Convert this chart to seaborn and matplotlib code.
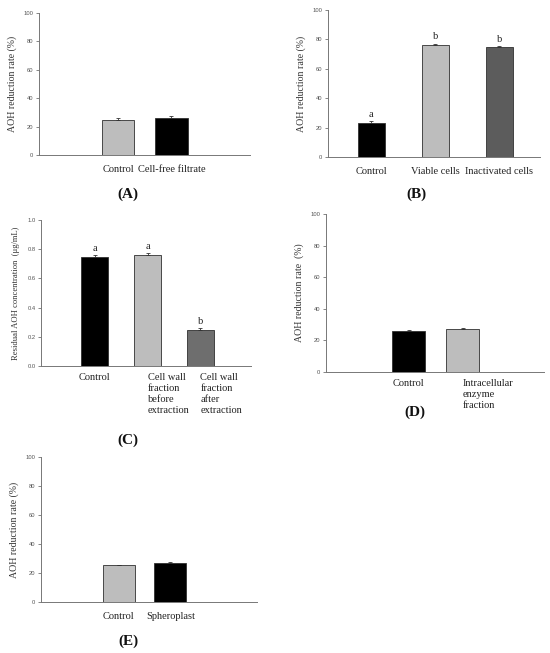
import matplotlib
matplotlib.use("Agg")
import matplotlib.pyplot as plt
import seaborn as sns
import pandas as pd
import numpy as np

sns.set_theme(style="white")
plt.rcParams['font.family'] = ['Liberation Serif', 'DejaVu Serif']

# ---- data ----
a_cats = ["Control", "Cell-free filtrate"]
a_vals = [24.5, 25.8]
a_errs = [1.3, 1.4]

b_cats = ["Control", "Viable cells", "Inactivated cells"]
b_vals = [23.0, 76.3, 74.5]
b_errs = [1.2, 0.8, 1.0]
b_sig = ["a", "b", "b"]

c_cats = ["Control", "Cell wall\nfraction\nbefore\nextraction", "Cell wall\nfraction\nafter\nextraction"]
c_vals = [0.75, 0.76, 0.25]
c_errs = [0.008, 0.012, 0.012]
c_sig = ["a", "a", "b"]

d_cats = ["Control", "Intracellular\nenzyme\nfraction"]
d_vals = [26.0, 27.0]
d_errs = [0.8, 0.8]

e_cats = ["Control", "Spheroplast"]
e_vals = [25.2, 27.0]
e_errs = [0.6, 0.8]

LG = "#bdbdbd"
DG = "#5c5c5c"
MG = "#6e6e6e"
BK = "#000000"

W, H = 550, 653
fig = plt.figure(figsize=(W / 100, H / 100), dpi=100)


def box(l, t, r, b):
    return [l / W, 1 - b / H, (r - l) / W, (b - t) / H]


def panel(rect, cats, vals, errs, colors, width, xlim, ylim, yticks, ylabel,
          letter, letter_xy, sig=None, sig_off=2.5, tickfmt="{:.0f}", xpad=7,
          ylsize=7.1):
    ax = fig.add_axes(box(*rect))
    df = pd.DataFrame({"cat": cats, "val": vals})
    sns.barplot(data=df, x="cat", y="val", hue="cat", palette=colors,
                width=width, edgecolor="#303030", linewidth=0.6,
                legend=False, errorbar=None, ax=ax)
    ax.errorbar(np.arange(len(cats)), vals, yerr=[np.zeros(len(errs)), errs],
                fmt="none", ecolor="#333333", elinewidth=0.6, capsize=1.5,
                capthick=0.6)
    if sig is not None:
        for i, (v, e, s) in enumerate(zip(vals, errs, sig)):
            ax.text(i, v + e + sig_off, s, ha="center", va="bottom",
                    fontsize=7.5, color="#222222")
    ax.set_xlim(*xlim)
    ax.set_ylim(*ylim)
    ax.set_yticks(yticks)
    ax.set_yticklabels([tickfmt.format(t) for t in yticks],
                       family=["Liberation Sans"], fontsize=4.2, color="#444444")
    ax.set_xlabel("")
    ax.set_ylabel(ylabel, fontsize=ylsize, color="#333333", labelpad=5)
    ax.tick_params(axis="x", length=0, labelsize=7.5, pad=xpad, colors="#222222")
    ax.tick_params(axis="y", length=2, width=0.5, direction="out",
                   left=True, pad=2, colors="#555555")
    for lab in ax.get_xticklabels():
        lab.set_verticalalignment("top")
        lab.set_linespacing(1.3)
        lab.set_horizontalalignment("left" if "\n" in lab.get_text() else "center")
    for sp in ["top", "right"]:
        ax.spines[sp].set_visible(False)
    for sp in ["left", "bottom"]:
        ax.spines[sp].set_color("#777777")
        ax.spines[sp].set_linewidth(0.7)
    fig.text(letter_xy[0] / W, 1 - letter_xy[1] / H, letter, ha="center",
             va="center", fontsize=11, fontweight="bold", color="#111111")
    return ax


pct = "AOH reduction rate (%)"
axA = panel((39, 13, 250, 155), a_cats, a_vals, a_errs, [LG, BK], 0.6,
            (-1.48, 2.47), (0, 100), [0, 20, 40, 60, 80, 100], pct,
            "(A)", (128, 194))
axB = panel((328, 10, 540, 157), b_cats, b_vals, b_errs, [BK, LG, DG], 0.42,
            (-0.68, 2.64), (0, 100), [0, 20, 40, 60, 80, 100], pct,
            "(B)", (416, 194), sig=b_sig, sig_off=1.5)
axC = panel((41, 220, 251, 366), c_cats, c_vals, c_errs, [BK, LG, MG], 0.51,
            (-1.02, 2.96), (0, 1.0), [0.0, 0.2, 0.4, 0.6, 0.8, 1.0],
            "Residual AOH concentration  (\u03bcg/mL)",
            "(C)", (128, 440), sig=c_sig, sig_off=0.015, tickfmt="{:.1f}", xpad=5,
            ylsize=6.2)
axD = panel((326, 214, 544, 372), d_cats, d_vals, d_errs, [BK, LG], 0.61,
            (-1.53, 2.51), (0, 100), [0, 20, 40, 60, 80, 100],
            "AOH reduction rate  (%)",
            "(D)", (415, 412), xpad=5)
axE = panel((41, 457, 257, 602), e_cats, e_vals, e_errs, [LG, BK], 0.62,
            (-1.51, 2.68), (0, 100), [0, 20, 40, 60, 80, 100], pct,
            "(E)", (128, 641))

# shift multi-line labels so they start near bar left edge
for ax, w in [(axC, 0.51), (axD, 0.61)]:
    for lab in ax.get_xticklabels():
        if "\n" in lab.get_text():
            x = lab.get_position()[0]
            lab.set_x(x - w / 2 - 0.05)

fig.savefig("out.png", dpi=100, facecolor="white")
